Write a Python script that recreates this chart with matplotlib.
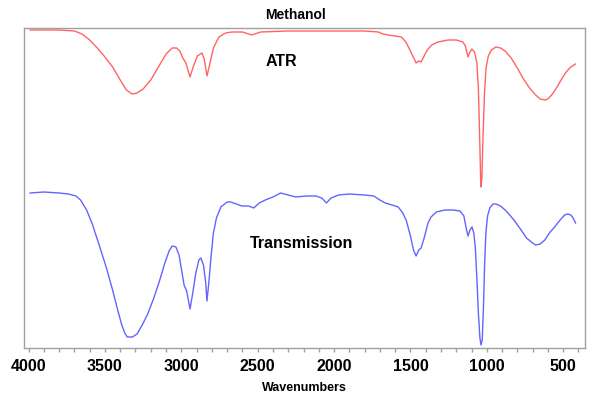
import matplotlib
matplotlib.use("Agg")
import matplotlib.pyplot as plt
from matplotlib.ticker import MultipleLocator

plt.rcParams['font.family'] = ['Liberation Sans', 'DejaVu Sans']

# ATR spectrum (red)
atr_wn = [3990, 3900, 3800, 3700, 3650, 3600, 3550, 3500, 3450, 3400, 3360, 3322, 3290,
          3250, 3200, 3150, 3100, 3060, 3030, 3010, 2990, 2970, 2943, 2920, 2895, 2865,
          2850, 2832, 2815, 2790, 2754, 2710, 2670, 2600, 2540, 2480, 2300, 2000, 1800,
          1710, 1680, 1645, 1600, 1560, 1530, 1500, 1475, 1463, 1445, 1430, 1410, 1390,
          1360, 1320, 1253, 1200, 1156, 1140, 1123, 1110, 1097, 1080, 1065, 1055, 1045,
          1039, 1032, 1025, 1015, 1005, 990, 970, 940, 910, 880, 840, 800, 760, 720,
          680, 650, 620, 600, 570, 540, 510, 480, 450, 419]
atr_t = [318, 318, 318, 317, 314, 308, 300, 291, 281, 268, 258, 254, 255,
         259, 268, 281, 294, 300, 300, 297, 290, 285, 271, 282, 292, 295,
         289, 272, 283, 300, 311, 315, 316, 316, 313, 316, 317, 317, 317,
         316, 314, 313, 312, 311, 306, 297, 289, 285, 287, 286, 292, 298,
         303, 306, 308, 308, 306, 302, 291, 296, 299, 296, 285, 260, 200,
         161, 170, 210, 255, 280, 292, 298, 301, 300, 297, 290, 280, 269, 260,
         253, 249, 248, 249, 254, 261, 269, 276, 281, 284]

# Transmission spectrum (blue)
tr_wn = [3990, 3900, 3800, 3740, 3690, 3660, 3620, 3583, 3540, 3490, 3450, 3420, 3390,
         3370, 3354, 3320, 3290, 3256, 3220, 3180, 3145, 3110, 3080, 3060, 3035, 3015,
         2995, 2982, 2965, 2943, 2925, 2905, 2885, 2872, 2855, 2840, 2832, 2820, 2805,
         2790, 2770, 2741, 2700, 2676, 2640, 2604, 2560, 2526, 2490, 2450, 2400, 2350,
         2300, 2250, 2180, 2120, 2080, 2050, 2020, 1970, 1900, 1800, 1740, 1700, 1665,
         1620, 1580, 1550, 1528, 1500, 1480, 1463, 1445, 1430, 1410, 1385, 1365, 1330,
         1273, 1220, 1175, 1150, 1135, 1123, 1110, 1097, 1085, 1075, 1065, 1055, 1045,
         1038, 1030, 1022, 1015, 1006, 995, 980, 960, 940, 910, 880, 850, 817, 780,
         740, 700, 680, 650, 620, 590, 556, 520, 490, 471, 450, 435, 419]
tr_t = [155, 156, 155, 154, 152, 148, 138, 124, 104, 80, 58, 40, 23,
        15, 11, 11, 14, 23, 34, 50, 66, 84, 97, 102, 101, 93,
        75, 63, 57, 39, 55, 75, 88, 90, 83, 65, 47, 65, 92,
        115, 130, 141, 146, 146, 144, 142, 142, 140, 145, 148, 151, 155,
        153, 151, 152, 152, 150, 145, 150, 153, 154, 153, 152, 148, 145,
        143, 141, 135, 128, 112, 98, 92, 98, 100, 110, 125, 131, 136,
        138, 138, 137, 132, 120, 112, 118, 121, 115, 100, 70, 35, 10,
        3, 8, 40, 80, 115, 132, 140, 144, 144, 142, 138, 133, 127, 119,
        110, 105, 103, 104, 108, 115, 121, 128, 133, 134, 133, 130, 125]

fig = plt.figure(figsize=(5.89, 4.11), dpi=100)
ax = fig.add_axes([24/589, (411-348)/411, (585-24)/589, (348-28)/411])

ax.plot(atr_wn, atr_t, color='#ff6464', lw=1.0)
ax.plot(tr_wn, tr_t, color='#6464ff', lw=1.0)

ax.set_xlim(4030, 357)
ax.set_ylim(0, 320)
ax.xaxis.set_major_locator(MultipleLocator(500))
ax.xaxis.set_minor_locator(MultipleLocator(100))
ax.set_yticks([])
for s in ax.spines.values():
    s.set_color('#a0a0a0')
    s.set_linewidth(1.0)
ax.tick_params(axis='x', which='both', direction='out', color='#a0a0a0', length=3, width=1)
ax.tick_params(axis='x', which='major', labelsize=11.5, pad=5)
for lb in ax.get_xticklabels():
    lb.set_fontweight('bold')

ax.set_xlabel('Wavenumbers', fontsize=9, fontweight='bold', labelpad=6)
fig.text(295/589, 1 - 15/411, 'Methanol', ha='center', va='center', fontsize=10, fontweight='bold')
fig.text(281/589, 1 - 62/411, 'ATR', ha='center', va='center', fontsize=11.5, fontweight='bold')
fig.text(302/589, 1 - 243/411, 'Transmission', ha='center', va='center', fontsize=11.5, fontweight='bold')

fig.savefig('out.png', dpi=100)
